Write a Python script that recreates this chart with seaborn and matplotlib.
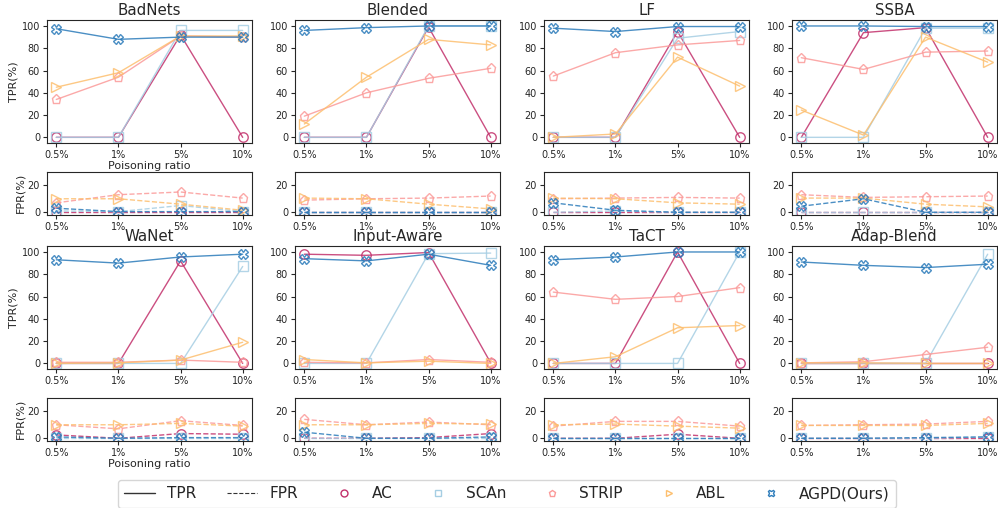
import numpy as np
import pandas as pd
import matplotlib
matplotlib.use("Agg")
import matplotlib.pyplot as plt
from matplotlib.lines import Line2D
import seaborn as sns

sns.set_style("ticks")
plt.rcParams['font.family'] = ['DejaVu Sans']

ratios = ["0.5%", "1%", "5%", "10%"]
attacks = ["BadNets", "Blended", "LF", "SSBA", "WaNet", "Input-Aware", "TaCT", "Adap-Blend"]
methods = ["AC", "SCAn", "STRIP", "ABL", "AGPD(Ours)"]

# TPR values (%) per attack, per method: AC, SCAn, STRIP, ABL, AGPD
tpr_badnets = [[0, 0, 92, 0], [0, 0, 96, 96], [34, 54, 91, 90], [45, 58, 91, 91], [97.5, 88, 90, 90]]
tpr_blended = [[0, 0, 99, 0], [0, 0, 100, 100], [19, 40, 53, 62], [12, 54, 88, 83], [96, 98.5, 100, 100]]
tpr_lf = [[0, 0, 95, 0], [0, 0, 89, 95], [55, 76, 83, 87], [0, 3, 72, 46], [98, 95, 99.5, 99.5]]
tpr_ssba = [[0, 94, 98.5, 0], [0, 0, 98, 98], [71.5, 61, 76.5, 77.5], [24.5, 2, 90, 67.5], [100, 100, 99.5, 99.5]]
tpr_wanet = [[0, 0, 92, 0], [0, 0, 0, 87], [1, 1, 3, 1], [0, 0.5, 3, 19], [93, 90, 95.5, 98]]
tpr_inputaware = [[98, 97, 99.5, 0.5], [0, 0, 98.5, 99], [1, 0.5, 3.5, 1], [3.5, 0.5, 2, 0], [94, 92, 98, 88]]
tpr_tact = [[0, 0, 100, 0], [0, 0, 0, 100], [64, 57.5, 60, 68], [0, 6, 32, 34], [93, 95.5, 100, 100]]
tpr_adapblend = [[0, 0, 0, 0], [0, 0, 0, 98], [0.5, 1.5, 8, 14.5], [0.5, 0.5, 0, 0], [91, 88, 86, 89]]

# FPR values (%) per attack, per method: AC, SCAn, STRIP, ABL, AGPD
fpr_badnets = [[0, 0, 0, 0], [1, 0.5, 5, 0.5], [7, 13, 15, 10.5], [10, 10, 6, 1.5], [3, 0.5, 0.5, 0.5]]
fpr_blended = [[0, 0, 0, 0], [0, 0, 0, 0], [9, 10, 10.5, 12], [10.5, 10, 6, 2.5], [0, 0, 0, 0]]
fpr_lf = [[0, 0, 0, 0], [0, 1, 0, 0], [10, 10.5, 11, 10.5], [10.5, 10, 7, 6], [7, 1.5, 0, 0]]
fpr_ssba = [[0, 0, 0, 0], [0, 0, 0, 0], [13, 11, 11.5, 12], [10.5, 10.5, 6, 4], [4.5, 10, 0, 0]]
fpr_wanet = [[2.5, 0, 3.5, 3], [0, 0, 0, 0], [10, 7, 13, 9.5], [10, 10, 11, 9], [1, 0, 0.5, 0.5]]
fpr_inputaware = [[0, 0, 0.5, 3.5], [0, 0, 0, 0], [14, 10, 12, 10], [10, 10, 11, 10.5], [4.5, 0, 0, 1]]
fpr_tact = [[0, 0, 3, 0], [0, 0, 0, 0], [9, 12.5, 12.5, 9], [10, 10.5, 9, 7.5], [0, 0, 0, 0]]
fpr_adapblend = [[0, 0, 0, 0], [0, 0, 0, 1], [9.5, 10, 10.5, 12.5], [9.5, 9.5, 9.5, 11], [0, 0, 0.5, 1]]

tpr_all = [tpr_badnets, tpr_blended, tpr_lf, tpr_ssba, tpr_wanet, tpr_inputaware, tpr_tact, tpr_adapblend]
fpr_all = [fpr_badnets, fpr_blended, fpr_lf, fpr_ssba, fpr_wanet, fpr_inputaware, fpr_tact, fpr_adapblend]

colors = {"AC": "#c2306b", "SCAn": "#a6cee3", "STRIP": "#fb9a99", "ABL": "#fdbf6f", "AGPD(Ours)": "#2b7bba"}
markers = {"AC": "o", "SCAn": "s", "STRIP": "p", "ABL": ">", "AGPD(Ours)": "X"}

W, H = 998, 508
fig = plt.figure(figsize=(W / 100, H / 100), dpi=100)

def px_axes(left, top, width, bottom):
    return fig.add_axes([left / W, 1 - bottom / H, width / W, (bottom - top) / H])

lefts = [47, 295, 544, 792]
width = 205
rows = [(20.4, 142.9), (171.7, 215), (246.4, 369), (397.7, 441)]

tick_fs = 7
lab_fs = 8
title_fs = 10.8

def draw(ax, data, ls):
    for m, vals in zip(methods, data):
        df = pd.DataFrame({"ratio": ratios, "val": vals})
        sns.lineplot(data=df, x="ratio", y="val", ax=ax, sort=False,
                     color=colors[m], marker=markers[m], markersize=6.8,
                     markerfacecolor="none", markeredgecolor=colors[m],
                     markeredgewidth=1.0, linewidth=1.0, linestyle=ls, alpha=0.85)
    ax.tick_params(labelsize=tick_fs, length=3, pad=2)
    ax.set_xlabel("")
    ax.set_ylabel("")

for i, att in enumerate(attacks):
    r = i // 4
    c = i % 4
    tt, tb = rows[2 * r]
    ft, fb = rows[2 * r + 1]
    ax_t = px_axes(lefts[c], tt, width, tb)
    ax_f = px_axes(lefts[c], ft, width, fb)
    draw(ax_t, tpr_all[i], "-")
    draw(ax_f, fpr_all[i], "--")
    ax_t.set_ylim(-5, 105)
    ax_t.set_yticks([0, 20, 40, 60, 80, 100])
    ax_f.set_ylim(-2, 30)
    ax_f.set_yticks([0, 20])
    ax_t.set_title(att, fontsize=title_fs, pad=4)
    if c == 0:
        ax_t.set_ylabel("TPR(%)", fontsize=lab_fs, labelpad=2)
        ax_f.set_ylabel("FPR(%)", fontsize=lab_fs, labelpad=2)
        if r == 0:
            ax_t.set_xlabel("Poisoning ratio", fontsize=lab_fs, labelpad=1)
        else:
            ax_f.set_xlabel("Poisoning ratio", fontsize=lab_fs, labelpad=1)

handles = [Line2D([], [], color="#333333", lw=1.0, ls="-"),
           Line2D([], [], color="#333333", lw=0.8, ls="--")]
for m in methods:
    handles.append(Line2D([], [], ls="none", marker=markers[m], markersize=5,
                          markerfacecolor="none", markeredgecolor=colors[m], markeredgewidth=1.0))
labels = ["TPR", "FPR"] + methods
fig.legend(handles, labels, loc="center", bbox_to_anchor=(507 / W, 1 - 494 / H),
           ncol=7, fontsize=11, frameon=True, handlelength=2.0, columnspacing=2.0)

fig.savefig("out.png", dpi=100)
